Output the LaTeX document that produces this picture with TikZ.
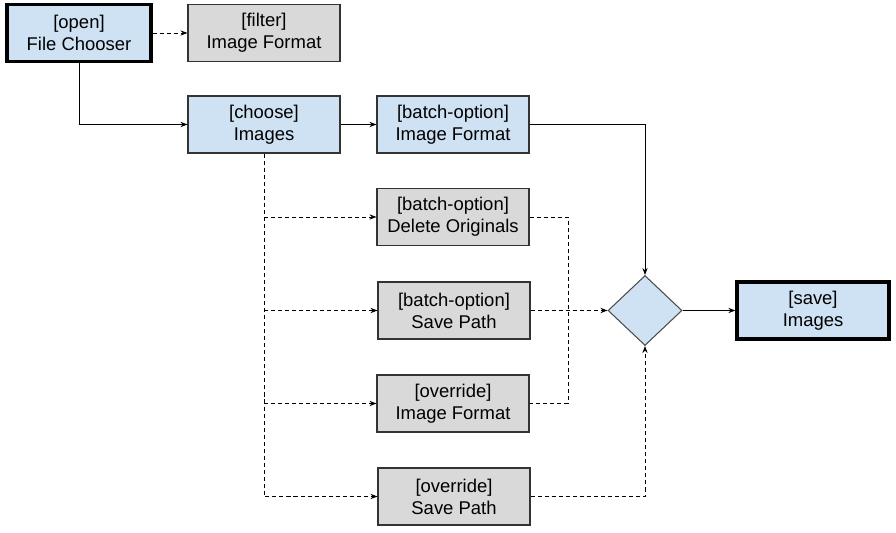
\documentclass[tikz,border=0pt]{standalone}
\usepackage{fontspec}
\setmainfont{Liberation Sans}
\usetikzlibrary{arrows.meta,shapes.geometric}

\definecolor{boxblue}{HTML}{CFE2F3}
\definecolor{boxgray}{HTML}{D9D9D9}

\tikzset{
  stagebox/.style={draw=black!80, line width=0.6pt, minimum width=3.04cm,
    minimum height=1.14cm, inner sep=0pt, align=center,
    font=\fontsize{10.5}{12.5}\selectfont},
  bluebox/.style={stagebox, fill=boxblue},
  graybox/.style={stagebox, fill=boxgray},
  keybox/.style={bluebox, draw=black, line width=1.9pt},
  choice/.style={diamond, draw=black!70, line width=0.6pt, fill=boxblue,
    minimum width=1.48cm, minimum height=1.4cm, inner sep=0pt},
  link/.style={-{Stealth[length=4pt,width=3pt]}, line width=0.5pt},
  optlink/.style={link, dash pattern=on 2.3pt off 1.7pt},
  optline/.style={line width=0.5pt, dash pattern=on 2.3pt off 1.7pt}
}

\begin{document}
\begin{tikzpicture}[x=0.02cm, y=-0.02cm]
  \useasboundingbox (0,0) rectangle (896,533);

  % top row
  \node[keybox, minimum width=2.88cm] (open) at (79,33) {[open]\\File Chooser};
  \node[graybox] (filter) at (264,33) {[filter]\\Image Format};

  % chosen images and the options
  \node[bluebox] (choose) at (264,124.5) {[choose]\\Images};
  \node[bluebox] (fmt) at (453,124.5) {[batch-option]\\Image Format};
  \node[graybox] (delete) at (453,217) {[batch-option]\\Delete Originals};
  \node[graybox] (path) at (454,310.5) {[batch-option]\\Save Path};
  \node[graybox] (ovfmt) at (453,403.5) {[override]\\Image Format};
  \node[graybox] (ovpath) at (454,496.5) {[override]\\Save Path};

  % merge and save
  \node[choice] (merge) at (645,310.5) {};
  \node[keybox] (save) at (813,310.5) {[save]\\Images};

  % branch points
  \coordinate (b1) at (choose.south |- delete.west);
  \coordinate (b2) at (choose.south |- path.west);
  \coordinate (b3) at (choose.south |- ovfmt.west);
  \coordinate (join) at (568,310.5);
  \coordinate (j1) at (join |- delete.east);
  \coordinate (j2) at (join |- ovfmt.east);

  \draw[optlink] (open) -- (filter);
  \draw[link] (open.south) |- (choose.west);
  \draw[link] (choose) -- (fmt);
  \draw[link] (fmt.east) -| (merge.north);

  \draw[optlink] (choose.south) |- (ovpath.west);
  \draw[optlink] (b1) -- (delete.west);
  \draw[optlink] (b2) -- (path.west);
  \draw[optlink] (b3) -- (ovfmt.west);

  \draw[optline] (delete.east) -- (j1) -- (j2) -- (ovfmt.east);
  \draw[optlink] (path) -- (merge);
  \draw[optlink] (ovpath.east) -| (merge.south);

  \draw[link] (merge) -- (save);
\end{tikzpicture}
\end{document}
